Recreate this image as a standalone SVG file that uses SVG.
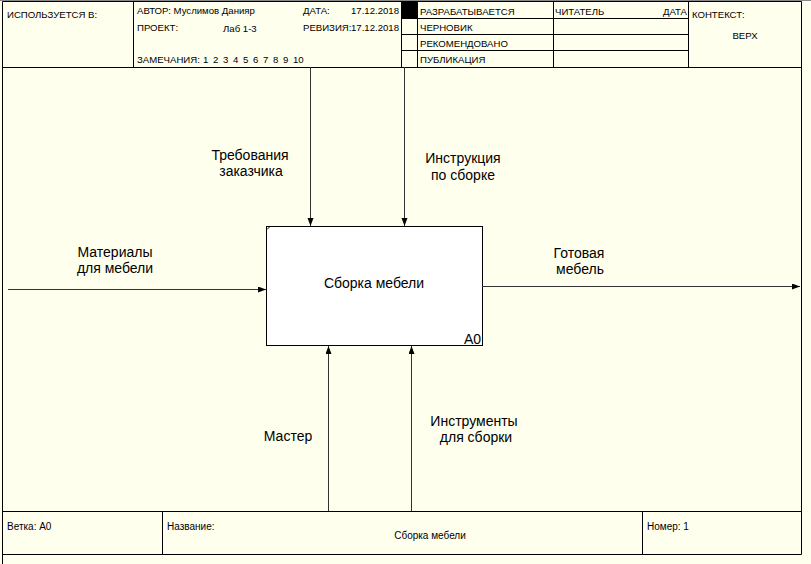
<svg xmlns="http://www.w3.org/2000/svg" width="811" height="564" viewBox="0 0 811 564">
<defs>
<style>
.f{stroke:#000;stroke-width:1;fill:none}
.h{font-family:"Liberation Sans",Arial,sans-serif;font-size:9.6px;fill:#000}
.b{font-family:"Liberation Sans",Arial,sans-serif;font-size:10px;fill:#000}
.l{font-family:"Liberation Sans",Arial,sans-serif;font-size:14px;fill:#000}
.a{stroke:#333;stroke-width:1;fill:none;marker-end:url(#ah)}
</style>
<marker id="ah" markerUnits="userSpaceOnUse" markerWidth="9" markerHeight="7" refX="8" refY="3" orient="auto">
<path d="M0,0 L8,3 L0,6 z" fill="#000"/>
</marker>
</defs>
<rect x="0" y="0" width="811" height="564" fill="#FFFFEE"/>
<rect x="0" y="0" width="811" height="1" fill="#888"/>
<g id="frame">
<path class="f" d="M2.5,1.5 H801.5 V554.5 H2.5 Z M2.5,554 V564"/>
<path class="f" d="M2,67.5 H802 M133.5,1 V67 M401.5,1 V67 M417.5,1 V67 M553.5,1 V67 M688.5,1 V67 M401,18.5 H688 M401,34.5 H688 M401,50.5 H688"/>
<rect x="401" y="1" width="16.5" height="17.5" fill="#000"/>
<path class="f" d="M2,511.5 H802 M162.5,511 V554 M642.5,511 V554"/>
</g>
<g id="header-text">
<text class="h" x="7" y="18">ИСПОЛЬЗУЕТСЯ В:</text>
<text class="h" x="137" y="14">АВТОР: Муслимов Данияр</text>
<text class="h" x="303" y="14">ДАТА:</text>
<text class="h" x="399" y="14" text-anchor="end">17.12.2018</text>
<text class="h" x="137" y="31">ПРОЕКТ:</text>
<text class="h" x="223" y="32">Лаб 1-3</text>
<text class="h" x="303" y="31">РЕВИЗИЯ:</text>
<text class="h" x="399" y="31" text-anchor="end">17.12.2018</text>
<text class="h" x="137" y="63">ЗАМЕЧАНИЯ:<tspan x="203">1</tspan><tspan x="213">2</tspan><tspan x="223">3</tspan><tspan x="233">4</tspan><tspan x="243">5</tspan><tspan x="253">6</tspan><tspan x="263">7</tspan><tspan x="273">8</tspan><tspan x="283">9</tspan><tspan x="293">10</tspan></text>
<text class="h" x="420" y="15">РАЗРАБАТЫВАЕТСЯ</text>
<text class="h" x="420" y="31">ЧЕРНОВИК</text>
<text class="h" x="420" y="47">РЕКОМЕНДОВАНО</text>
<text class="h" x="420" y="63">ПУБЛИКАЦИЯ</text>
<text class="h" x="555" y="15">ЧИТАТЕЛЬ</text>
<text class="h" x="687" y="15" text-anchor="end">ДАТА</text>
<text class="h" x="692" y="18">КОНТЕКСТ:</text>
<text class="h" x="745" y="39" text-anchor="middle">ВЕРХ</text>
</g>
<g id="footer-text">
<text class="b" x="7" y="530">Ветка:  А0</text>
<text class="b" x="167" y="530">Название:</text>
<text class="b" x="430" y="539" text-anchor="middle">Сборка мебели</text>
<text class="b" x="647" y="530">Номер:  1</text>
</g>
<g id="A0">
<rect x="266.5" y="226.5" width="216" height="119" fill="#fff" stroke="#000" stroke-width="1"/>
<path d="M267,229.5 L269.5,227" stroke="#000" stroke-width="1"/>
<text class="l" x="374" y="288" text-anchor="middle">Сборка мебели</text>
<text class="l" x="481" y="344" text-anchor="end">A0</text>
</g>
<g id="connectors">
<path class="a" d="M8,289.5 H266"/>
<path class="a" d="M482,286.5 H800"/>
<path class="a" d="M310.5,67 V226"/>
<path class="a" d="M404.5,67 V226"/>
<path class="a" d="M328.5,511 V346"/>
<path class="a" d="M411.5,511 V346"/>
</g>
<g id="labels">
<text class="l" x="250" y="160" text-anchor="middle">Требования</text>
<text class="l" x="251" y="176" text-anchor="middle">заказчика</text>
<text class="l" x="463" y="163" text-anchor="middle">Инструкция</text>
<text class="l" x="463" y="180" text-anchor="middle">по сборке</text>
<text class="l" x="115" y="257" text-anchor="middle">Материалы</text>
<text class="l" x="115" y="273" text-anchor="middle">для мебели</text>
<text class="l" x="579" y="258" text-anchor="middle">Готовая</text>
<text class="l" x="580" y="274" text-anchor="middle">мебель</text>
<text class="l" x="288" y="441" text-anchor="middle">Мастер</text>
<text class="l" x="474" y="426" text-anchor="middle">Инструменты</text>
<text class="l" x="476" y="442" text-anchor="middle">для сборки</text>
</g>
</svg>
